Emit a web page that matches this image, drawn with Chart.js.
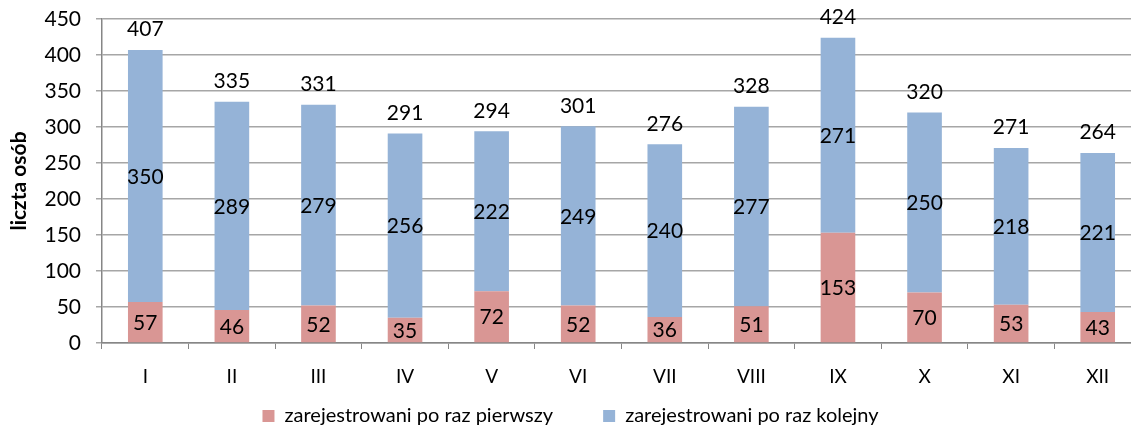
<!DOCTYPE html>
<html>
<head>
<meta charset="utf-8">
<script src="https://cdn.jsdelivr.net/npm/chart.js@4"></script>
<style>
  body { margin: 0; overflow: hidden; background: #fff; }
  #wrap { width: 1142px; height: 432px; }
</style>
</head>
<body>
<div id="wrap"><canvas id="chart" width="1142" height="432"></canvas></div>
<script>
var months = ["I", "II", "III", "IV", "V", "VI", "VII", "VIII", "IX", "X", "XI", "XII"];
var firstTime = [57, 46, 52, 35, 72, 52, 36, 51, 153, 70, 53, 43];
var nextTime = [350, 289, 279, 256, 222, 249, 240, 277, 271, 250, 218, 221];
var yTicks = [0, 50, 100, 150, 200, 250, 300, 350, 400, 450];

Chart.defaults.font.family = "Lato";
Chart.defaults.color = "#000";

// labels inside the segments and the totals on top
var barLabels = {
    id: "barLabels",
    afterLayout: function (chart) {
        // legend items sit "padding" below the top of the box, so pull the box up
        var lg = chart.legend;
        lg.top = 356;
        lg.height = lg.bottom - lg.top;
    },
    afterDatasetsDraw: function (chart) {
        var ctx = chart.ctx;
        ctx.save();
        ctx.fillStyle = "#000";
        ctx.font = "21px Lato";
        ctx.textAlign = "center";
        ctx.textBaseline = "middle";
        chart.data.datasets.forEach(function (ds, di) {
            var meta = chart.getDatasetMeta(di);
            meta.data.forEach(function (bar, i) {
                ctx.fillText(ds.data[i], bar.x, (bar.y + bar.base) / 2 + 1);
            });
        });
        var top = chart.getDatasetMeta(1);
        ctx.textBaseline = "bottom";
        top.data.forEach(function (bar, i) {
            ctx.fillText(firstTime[i] + nextTime[i], bar.x, bar.y - 10);
        });
        ctx.restore();
    }
};

var ctx = document.getElementById("chart").getContext("2d");
var myChart = new Chart(ctx, {
    type: "bar",
    data: {
        labels: months,
        datasets: [{
            label: "zarejestrowani po raz pierwszy",
            data: firstTime,
            backgroundColor: "#D99694"
        }, {
            label: "zarejestrowani po raz kolejny",
            data: nextTime,
            backgroundColor: "#95B3D7"
        }]
    },
    options: {
        responsive: false,
        animation: false,
        layout: { padding: { top: 0, right: 1, left: 0, bottom: 0 } },
        datasets: {
            bar: { categoryPercentage: 1, barPercentage: 0.4 }
        },
        scales: {
            x: {
                stacked: true,
                grid: {
                    offset: true,
                    drawOnChartArea: false,
                    tickLength: 6,
                    color: "#868686"
                },
                border: { color: "#868686", width: 1.5 },
                ticks: { font: { size: 19 }, padding: 16 },
                afterFit: function (scale) { scale.height = 49; }
            },
            y: {
                stacked: true,
                min: 0,
                max: 450,
                afterBuildTicks: function (scale) {
                    scale.ticks = yTicks.map(function (v) { return { value: v }; });
                },
                grid: { color: "#A6A6A6", lineWidth: 1.5, tickLength: 6 },
                border: { color: "#868686", width: 1.5 },
                ticks: { font: { size: 21 }, padding: 15 },
                title: {
                    display: true,
                    text: "liczta osób",
                    font: { size: 21, weight: "bold" },
                    padding: { top: 7, bottom: 0 }
                },
                afterFit: function (scale) {
                    scale.width = 102;
                    scale.paddingTop = 19;
                    scale.paddingBottom = 0;
                }
            }
        },
        plugins: {
            legend: {
                position: "bottom",
                maxHeight: 40,
                labels: {
                    boxWidth: 12,
                    boxHeight: 12,
                    padding: 50,
                    font: { size: 20 }
                }
            },
            tooltip: { enabled: false }
        }
    },
    plugins: [barLabels]
});
</script>
</body>
</html>
